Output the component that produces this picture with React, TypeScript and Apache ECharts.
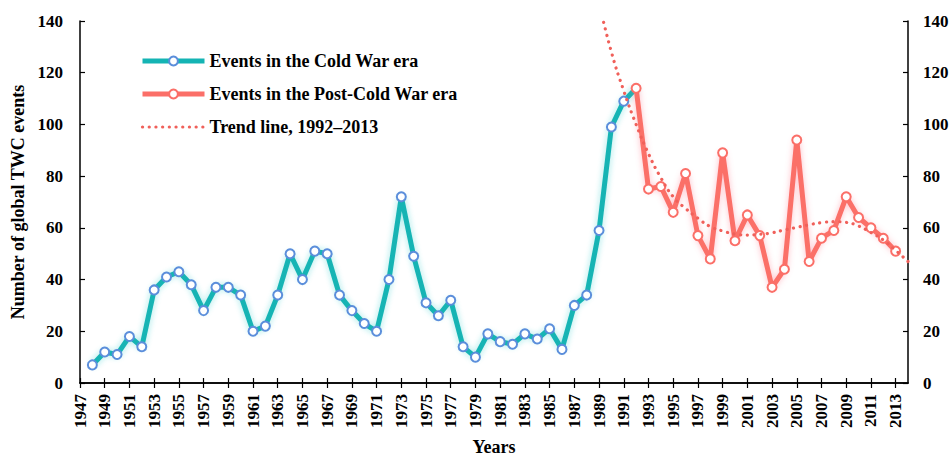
import React, { useEffect, useRef } from "react";
import * as echarts from "echarts";

const years: string[] = [
  "1947","1948","1949","1950","1951","1952","1953","1954","1955","1956","1957","1958","1959","1960",
  "1961","1962","1963","1964","1965","1966","1967","1968","1969","1970","1971","1972","1973","1974",
  "1975","1976","1977","1978","1979","1980","1981","1982","1983","1984","1985","1986","1987","1988",
  "1989","1990","1991","1992","1993","1994","1995","1996","1997","1998","1999","2000","2001","2002",
  "2003","2004","2005","2006","2007","2008","2009","2010","2011","2012","2013","2014",
];

// Cold War era, 1948–1991
const coldStart = 1948;
const coldWarValues = [
  7, 12, 11, 18, 14, 36, 41, 43, 38, 28, 37, 37, 34, 20, 22, 34, 50, 40, 51, 50, 34, 28, 23, 20,
  40, 72, 49, 31, 26, 32, 14, 10, 19, 16, 15, 19, 17, 21, 13, 30, 34, 59, 99, 109,
];

// Post-Cold War era, 1992–2013
const postStart = 1992;
const postColdWarValues = [
  114, 75, 76, 66, 81, 57, 48, 89, 55, 65, 57, 37, 44, 94, 47, 56, 59, 72, 64, 60, 56, 51,
];

// Trend line, 1989–2014
const trendStart = 1989;
const trendValues = [
  147, 128, 113, 100, 88.7, 79.4, 72, 67.5, 63.7, 60.5, 58.8, 57.6, 57.2, 57.5, 58.1, 59.2, 60.2,
  61.2, 62, 62.4, 62.1, 60.7, 58.2, 55.3, 51.3, 47,
];

const legendNames = [
  "Events in the Cold War era",
  "Events in the Post-Cold War era",
  "Trend line, 1992–2013",
];

const yTicks = { min: 0, max: 140, interval: 20 };

const FONT = '"Times New Roman", "Liberation Serif", serif';
const CYAN = "#14b4b4";
const CYAN_BORDER = "#5b8edb";
const RED = "#fb6f68";
const TREND = "#f0605a";
const TREND_DASH = [0.1, 6.6];

function alignTo(start: number, values: number[]) {
  return years.map((y) => {
    const i = Number(y) - start;
    return i >= 0 && i < values.length ? values[i] : null;
  });
}

export default function App() {
  const ref = useRef<HTMLDivElement>(null);
  useEffect(() => {
    if (!ref.current) return;
    const chart = echarts.init(ref.current, null, { renderer: "svg" });

    const coldData: any[] = alignTo(coldStart, coldWarValues);
    // connect the Cold War line to the first post-Cold War value (symbol hidden)
    const joinIdx = years.indexOf(String(postStart));
    coldData[joinIdx] = { value: postColdWarValues[0], symbolSize: 0 };

    const label = { fontFamily: FONT, fontWeight: "bold" as const, fontSize: 17, color: "#000" };
    const axisLine = { show: true, lineStyle: { color: "#000", width: 1.5 } };
    const tick = { show: true, inside: true, length: 5, lineStyle: { color: "#000", width: 1.2 } };

    chart.setOption({
      animation: false,
      grid: { left: 80, right: 44, top: 21, bottom: 72, containLabel: false },
      legend: {
        orient: "vertical",
        left: 140,
        top: 51,
        padding: 0,
        itemWidth: 62,
        itemHeight: 11,
        itemGap: 13,
        textStyle: { fontFamily: FONT, fontWeight: "bold", fontSize: 18, color: "#000", lineHeight: 20 },
        data: [
          { name: legendNames[0], lineStyle: { width: 5, color: CYAN } },
          { name: legendNames[1], lineStyle: { width: 5, color: RED } },
          {
            name: legendNames[2],
            itemStyle: { opacity: 0 },
            lineStyle: { width: 3.2, color: TREND, type: TREND_DASH, cap: "round" },
          },
        ],
      },
      xAxis: [
        {
          type: "category",
          data: years,
          boundaryGap: false,
          position: "bottom",
          axisLine,
          axisTick: { ...tick, interval: 1 },
          axisLabel: { ...label, interval: 1, rotate: 90, margin: 11 },
          splitLine: { show: false },
          name: "Years",
          nameLocation: "middle",
          nameGap: 55,
          nameTextStyle: { ...label, fontSize: 18 },
        },
        {
          type: "category",
          data: years,
          boundaryGap: false,
          position: "top",
          axisLine,
          axisTick: { ...tick, interval: 1 },
          axisLabel: { show: false },
          splitLine: { show: false },
        },
      ],
      yAxis: [
        {
          type: "value",
          ...yTicks,
          position: "left",
          axisLine,
          axisTick: tick,
          axisLabel: { ...label, margin: 17 },
          splitLine: { show: false },
          name: "Number of global TWC events",
          nameLocation: "middle",
          nameGap: 49,
          nameTextStyle: { ...label, fontSize: 18 },
        },
        {
          type: "value",
          ...yTicks,
          position: "right",
          axisLine,
          axisTick: tick,
          axisLabel: { ...label, margin: 15 },
          splitLine: { show: false },
        },
      ],
      series: [
        {
          name: legendNames[0],
          type: "line",
          data: coldData,
          z: 3,
          symbol: "circle",
          symbolSize: 9,
          showAllSymbol: true,
          lineStyle: {
            color: CYAN,
            width: 5,
            shadowColor: "rgba(40,200,200,0.45)",
            shadowBlur: 6,
          },
          itemStyle: { color: "#fff", borderColor: CYAN_BORDER, borderWidth: 2 },
        },
        {
          name: legendNames[1],
          type: "line",
          data: alignTo(postStart, postColdWarValues),
          z: 4,
          symbol: "circle",
          symbolSize: 9,
          showAllSymbol: true,
          lineStyle: {
            color: RED,
            width: 5,
            shadowColor: "rgba(255,110,130,0.45)",
            shadowBlur: 6,
          },
          itemStyle: { color: "#fff", borderColor: RED, borderWidth: 2 },
        },
        {
          name: legendNames[2],
          type: "line",
          data: alignTo(trendStart, trendValues),
          z: 5,
          smooth: true,
          symbol: "none",
          clip: true,
          lineStyle: { color: TREND, width: 3.2, type: TREND_DASH, cap: "round" },
          itemStyle: { color: TREND },
        },
      ],
    });
    return () => chart.dispose();
  }, []);
  return (
    <div
      ref={ref}
      style={{ position: "absolute", left: 0, top: 0, width: 952, height: 461, overflow: "hidden" }}
    />
  );
}
